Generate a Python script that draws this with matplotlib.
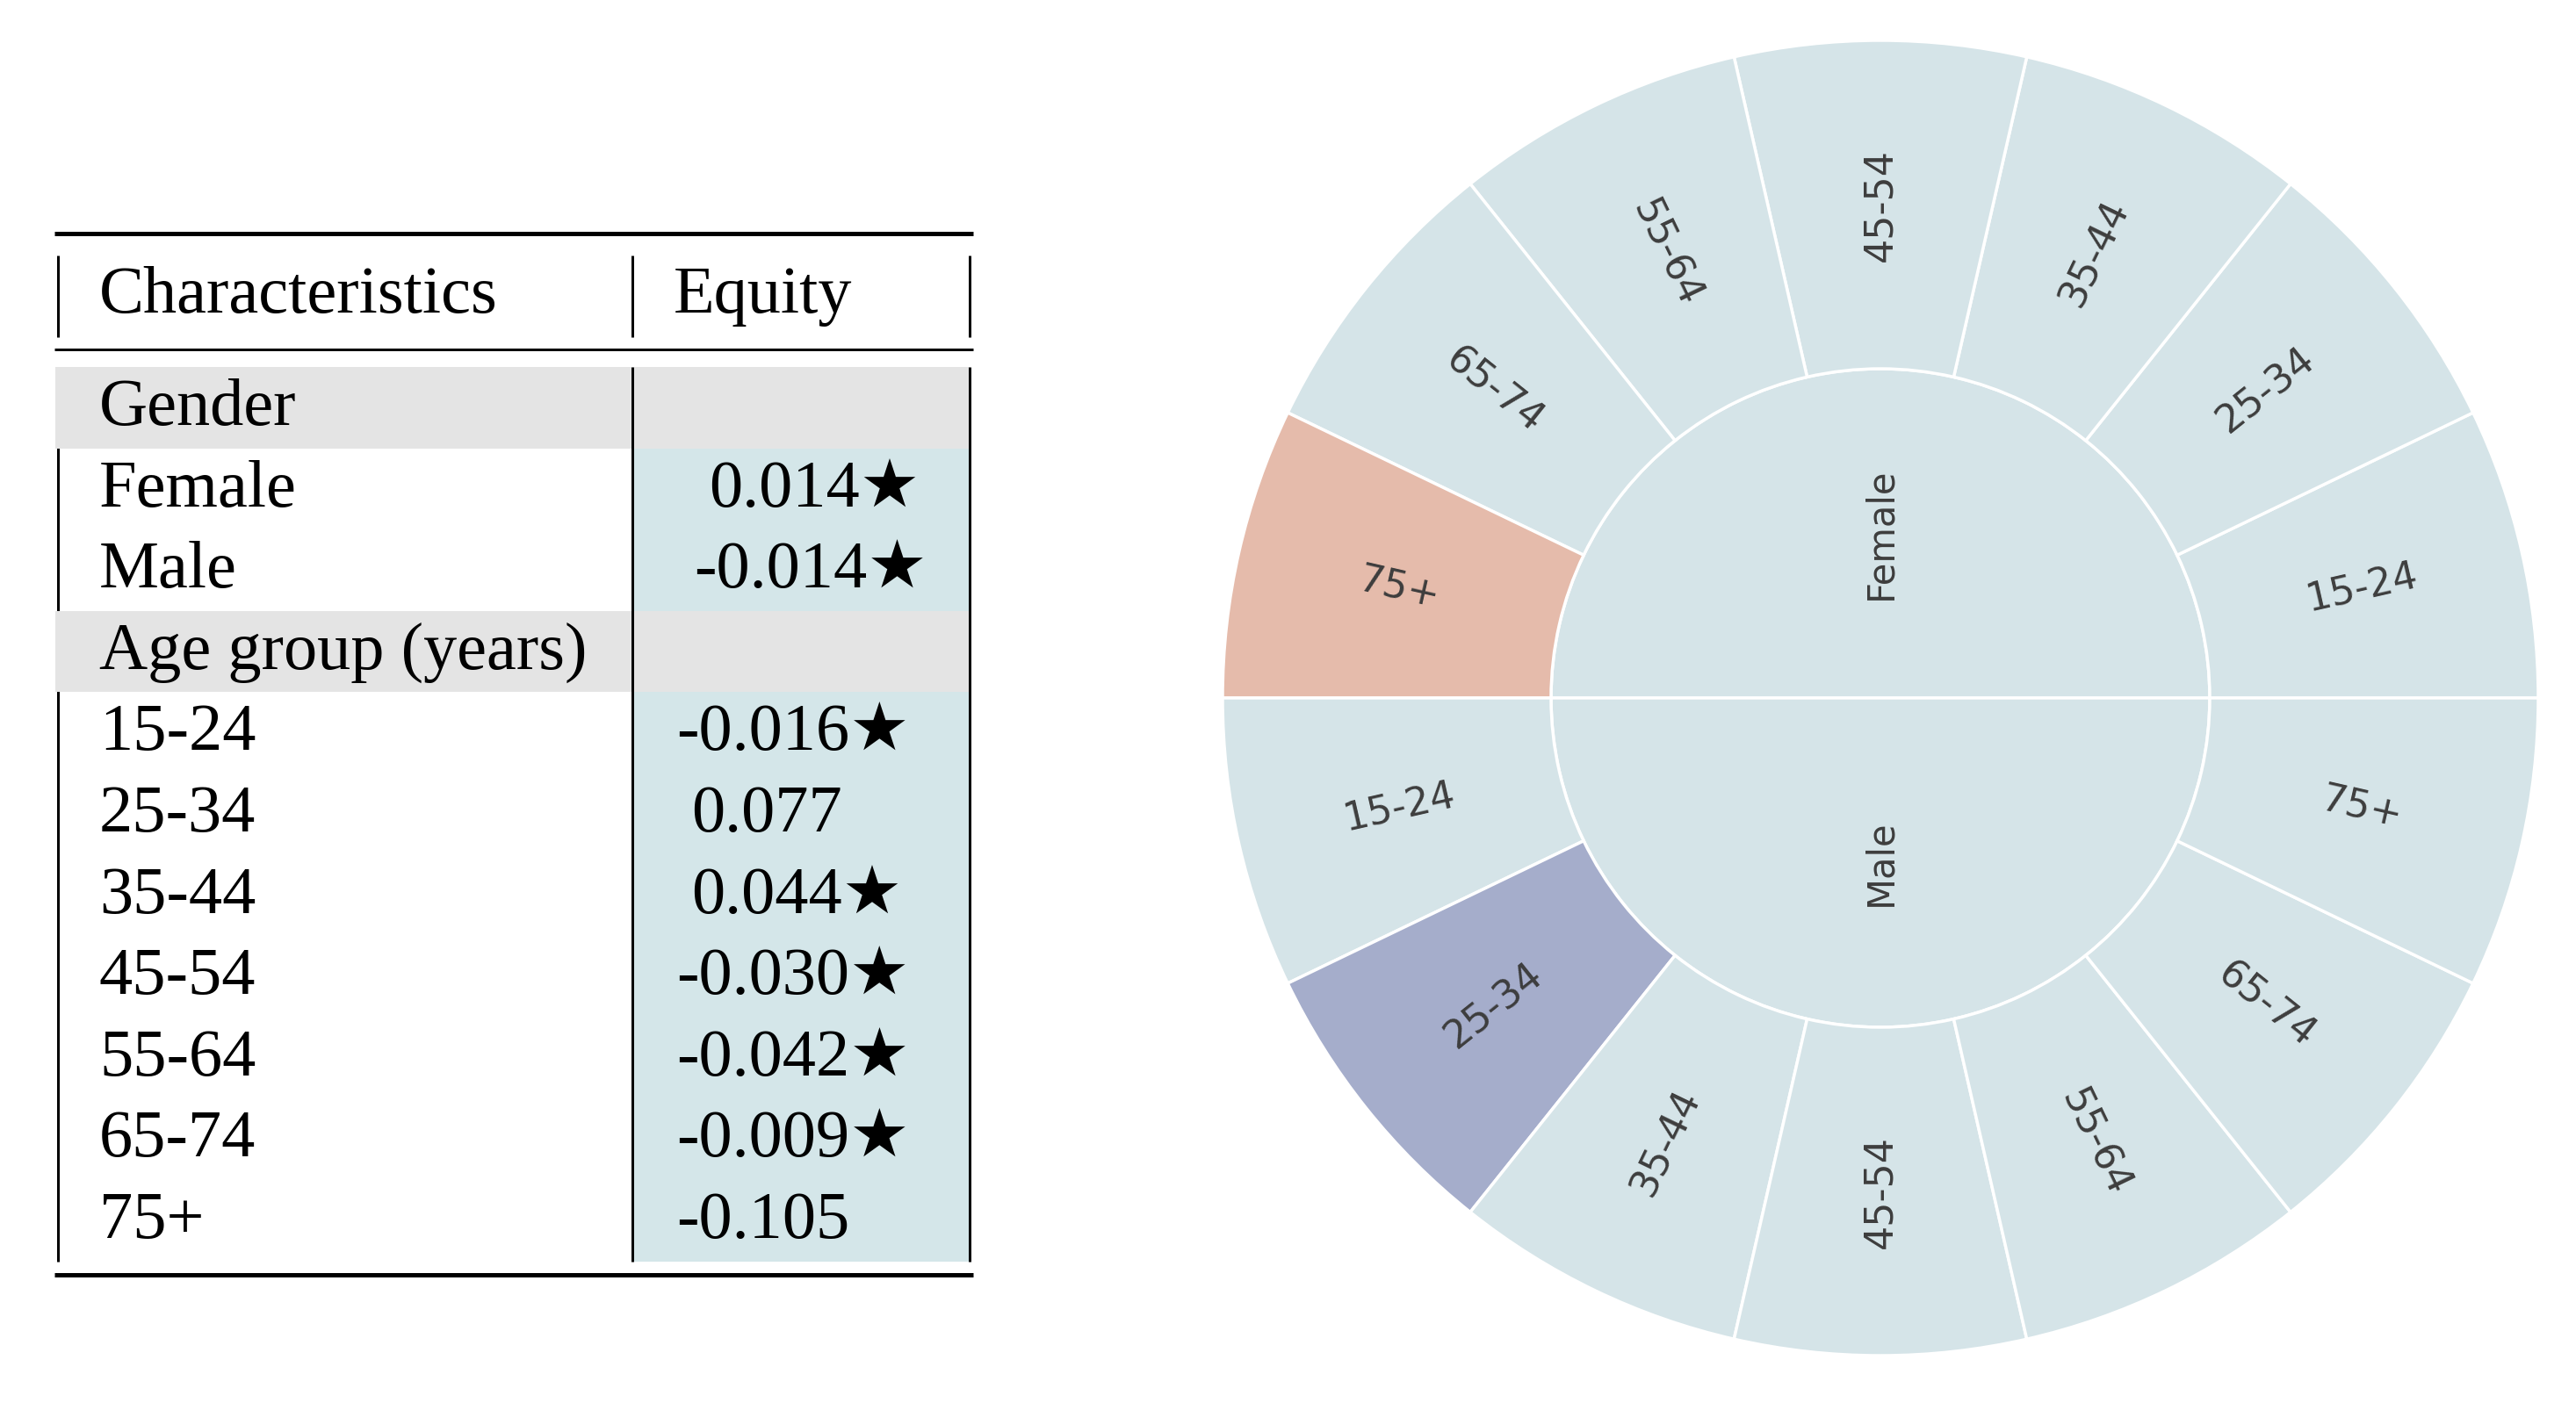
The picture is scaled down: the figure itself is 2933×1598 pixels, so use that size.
import numpy as np
import matplotlib
matplotlib.use("Agg")
import matplotlib.pyplot as plt
from matplotlib.patches import Rectangle, Wedge

# ---------------- data ----------------
header = ["Characteristics", "Equity"]
group_titles = ["Gender", "Age group (years)"]
sexes = ["Female", "Male"]
gender_equity = [0.014, -0.014]
gender_sig = [True, True]
age_groups = ["15-24", "25-34", "35-44", "45-54", "55-64", "65-74", "75+"]
age_equity = [-0.016, 0.077, 0.044, -0.030, -0.042, -0.009, -0.105]
age_sig = [True, False, True, True, True, True, False]
# sunburst: every (sex, age) cell has equal weight
cell_weight = [1, 1, 1, 1, 1, 1, 1]
highlight_cells = {("Female", "75+"): "#e5bbab", ("Male", "25-34"): "#a5adcb"}

# ---------------- style ----------------
W, H = 2933, 1598
DPI = 100
BASE_COL = "#d5e4e8"
GRAY = "#e4e4e4"
BLUE = "#d4e6e9"
LABEL_COL = "#3d3d3d"
PX = 72.0 / DPI  # points per pixel

fig = plt.figure(figsize=(W / DPI, H / DPI), dpi=DPI)
ax = fig.add_axes([0, 0, 1, 1])
ax.set_xlim(0, W)
ax.set_ylim(0, H)
ax.axis("off")


def fy(y):
    return H - y


serif = ["Liberation Serif", "DejaVu Sans"]
FS = 55

# ---------------- table ----------------
x_left, x_mid, x_right = 66, 720, 1104
rule_x0, rule_x1 = 62, 1108
row_top0 = 418
row_h = 92.6

# rules
ax.plot([rule_x0, rule_x1], [fy(265.5), fy(265.5)], color="black", lw=5 * PX, solid_capstyle="butt")
ax.plot([rule_x0, rule_x1], [fy(398), fy(398)], color="black", lw=3 * PX, solid_capstyle="butt")
ax.plot([rule_x0, rule_x1], [fy(1452), fy(1452)], color="black", lw=5 * PX, solid_capstyle="butt")
# header verticals
for xv in (x_left, x_mid, x_right):
    ax.plot([xv, xv], [fy(291), fy(384)], color="black", lw=3 * PX, solid_capstyle="butt")
ax.text(113, fy(356), header[0], fontsize=FS, family=serif, va="baseline", ha="left")
ax.text(767, fy(356), header[1], fontsize=FS, family=serif, va="baseline", ha="left")

# body rows
rows = []
rows.append(("title", group_titles[0], None, None))
for s, v, g in zip(sexes, gender_equity, gender_sig):
    rows.append(("gender", s, v, g))
rows.append(("title", group_titles[1], None, None))
for a, v, g in zip(age_groups, age_equity, age_sig):
    rows.append(("age", a, v, g))

body_bottom = row_top0 + row_h * len(rows)
# left vertical (hidden under gray title rows)
ax.plot([x_left, x_left], [fy(row_top0), fy(body_bottom)], color="black", lw=3 * PX, zorder=1,
        solid_capstyle="butt")

for i, (kind, label, val, sig) in enumerate(rows):
    top = row_top0 + i * row_h
    if kind == "title":
        ax.add_patch(Rectangle((63, fy(top + row_h)), x_right - 63, row_h, facecolor=GRAY,
                               edgecolor="none", zorder=2))
    else:
        ax.add_patch(Rectangle((x_mid, fy(top + row_h)), x_right - x_mid, row_h, facecolor=BLUE,
                               edgecolor="none", zorder=2))
    ax.text(113, fy(top + 66), label, fontsize=FS, family=serif, va="baseline", ha="left", zorder=4)
    if val is not None:
        base = 790 if kind == "gender" else 770
        xs = base if val < 0 else base + 17
        s = f"{val:.3f}" + ("\u2605" if sig else "")
        ax.text(xs, fy(top + 66), s, fontsize=FS, family=serif, va="baseline", ha="left", zorder=4)

for xv in (x_mid, x_right):
    ax.plot([xv, xv], [fy(row_top0), fy(body_bottom)], color="black", lw=3 * PX, zorder=3,
            solid_capstyle="butt")

# ---------------- sunburst ----------------
cx, cy = 2141, fy(795)
R_out, R_in = 749, 375


def text_rot(a):
    r = a % 180
    if r > 90:
        r -= 180
    return r


weights = np.array(cell_weight, dtype=float)
for k, sex in enumerate(sexes):
    start = 180.0 * k
    span = 180.0
    # inner ring
    ax.add_patch(Wedge((cx, cy), R_in, start, start + span, facecolor=BASE_COL,
                       edgecolor="white", lw=2.5, zorder=2))
    amid = start + span / 2
    ax.text(cx + R_in / 2 * np.cos(np.radians(amid)), cy + R_in / 2 * np.sin(np.radians(amid)),
            sex, fontsize=30, color=LABEL_COL, rotation=text_rot(amid), rotation_mode="anchor",
            ha="center", va="center", family="DejaVu Sans", zorder=5)
    # outer ring
    cum = np.concatenate([[0], np.cumsum(weights)]) / weights.sum() * span + start
    for j, age in enumerate(age_groups):
        a0, a1 = cum[j], cum[j + 1]
        col = highlight_cells.get((sex, age), BASE_COL)
        ax.add_patch(Wedge((cx, cy), R_out, a0, a1, width=R_out - R_in, facecolor=col,
                           edgecolor="white", lw=2.5, zorder=2))
        am = (a0 + a1) / 2
        rm = (R_out + R_in) / 2
        ax.text(cx + rm * np.cos(np.radians(am)), cy + rm * np.sin(np.radians(am)), age,
                fontsize=32, color=LABEL_COL, rotation=text_rot(am), rotation_mode="anchor",
                ha="center", va="center", family="DejaVu Sans", zorder=5)

fig.savefig("out.png", dpi=DPI, facecolor="white")
